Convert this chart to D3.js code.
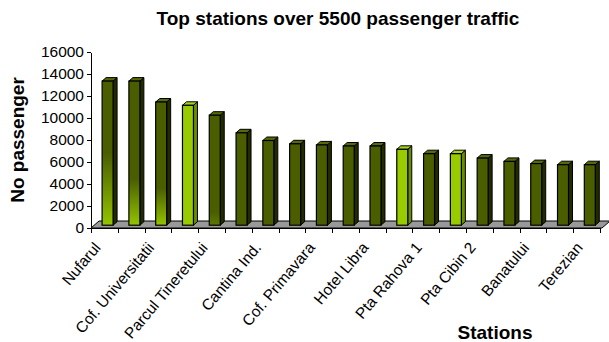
<!DOCTYPE html>
<html>
<head>
<meta charset="utf-8">
<script src="https://cdn.jsdelivr.net/npm/d3@7"></script>
<style>
    body { margin: 0; background: #fff; }
    svg { display: block; font-family: Arial, "Liberation Sans", sans-serif; }
    .axis path, .axis line { stroke: #000; shape-rendering: crispEdges; }
</style>
</head>
<body>
<div id="chart"></div>
<script>
// station names, only every other one is printed on the original chart
let stations = ["Nufarul", "", "Cof. Universitatii", "", "Parcul Tineretului", "", "Cantina Ind.", "",
    "Cof. Primavara", "", "Hotel Libra", "", "Pta Rahova 1", "", "Pta Cibin 2", "", "Banatului", "", "Terezian"];

let passengers = [13100, 13100, 11200, 10900, 10000, 8400, 7700, 7400, 7300, 7200, 7200,
    6900, 6500, 6500, 6100, 5800, 5600, 5500, 5500];

let yTicks = [0, 2000, 4000, 6000, 8000, 10000, 12000, 14000, 16000];

// styling: which bars are light green, which fade to light at the bottom
let lightBars = [3, 11, 13];
let fadeBars = { 0: 0.5, 1: 0.68, 2: 0.7, 4: 0.88 };

let width = 609, height = 342;
let margin = { top: 52, left: 91, right: 9, bottom: 114 };

let svg = d3.select("#chart").append("svg")
    .attr("width", width)
    .attr("height", height);

let x = d3.scaleBand()
    .domain(d3.range(stations.length))
    .range([margin.left, width - margin.right]);

let xTicks = d3.scaleLinear()
    .domain([0, stations.length])
    .range(x.range());

let y = d3.scaleLinear()
    .domain([0, 16000])
    .range([height - margin.bottom, margin.top]);

let floorDepth = { dx: 8, dy: -7 };
let barDepth = { dx: 4, dy: -3.5 };
let barPlace = 0.4;

let dark = { front: "#4a5e00", side: "#222a00", top: "#55690a" };
let light = { front: "#99cc00", side: "#6a8c00", top: "#a6d41a" };

let defs = svg.append("defs");
Object.keys(fadeBars).forEach(function(i) {
    let g = defs.append("linearGradient")
        .attr("id", "fade" + i)
        .attr("x1", 0).attr("x2", 0).attr("y1", 0).attr("y2", 1);
    g.append("stop").attr("offset", 0).attr("stop-color", dark.front);
    g.append("stop").attr("offset", fadeBars[i]).attr("stop-color", dark.front);
    g.append("stop").attr("offset", 1).attr("stop-color", i == 4 ? "#5c7a00" : "#94c400");
});

// floor
let x0 = x.range()[0], x1 = x.range()[1], y0 = y(0);
svg.append("polygon")
    .attr("points", [[x0, y0], [x1 + 2, y0], [x1 + 2 + floorDepth.dx, y0 + floorDepth.dy],
        [x0 + floorDepth.dx, y0 + floorDepth.dy]].join(" "))
    .attr("fill", "#999999")
    .attr("stroke", "#000")
    .attr("stroke-width", 1);

// bars
let bw = x.bandwidth() * 0.41;
let bars = svg.selectAll(".bar")
    .data(passengers)
    .enter().append("g")
    .attr("class", "bar");

function geom(d, i) {
    let left = x(i) + (x.bandwidth() - bw) / 2 + floorDepth.dx * barPlace;
    let bottom = y(0) + floorDepth.dy * barPlace;
    let top = y(d) + floorDepth.dy * barPlace;
    return { left: left, right: left + bw, top: top, bottom: bottom };
}

function colors(i) {
    return lightBars.indexOf(i) >= 0 ? light : dark;
}

bars.append("polygon")
    .attr("points", function(d, i) {
        let g = geom(d, i);
        return [[g.right, g.top], [g.right + barDepth.dx, g.top + barDepth.dy],
            [g.right + barDepth.dx, g.bottom + barDepth.dy], [g.right, g.bottom]].join(" ");
    })
    .attr("fill", function(d, i) { return colors(i).side; })
    .attr("stroke", "#000")
    .attr("stroke-width", 1)
    .attr("stroke-linejoin", "round");

bars.append("polygon")
    .attr("points", function(d, i) {
        let g = geom(d, i);
        return [[g.left, g.top], [g.left + barDepth.dx, g.top + barDepth.dy],
            [g.right + barDepth.dx, g.top + barDepth.dy], [g.right, g.top]].join(" ");
    })
    .attr("fill", function(d, i) { return colors(i).top; })
    .attr("stroke", "#000")
    .attr("stroke-width", 1)
    .attr("stroke-linejoin", "round");

bars.append("rect")
    .attr("x", function(d, i) { return geom(d, i).left; })
    .attr("y", function(d, i) { return geom(d, i).top; })
    .attr("width", bw)
    .attr("height", function(d, i) { let g = geom(d, i); return g.bottom - g.top; })
    .attr("fill", function(d, i) {
        return fadeBars[i] !== undefined ? "url(#fade" + i + ")" : colors(i).front;
    })
    .attr("stroke", "#000")
    .attr("stroke-width", 1.2);

// axes
svg.append("g")
    .attr("class", "axis y-axis")
    .attr("transform", "translate(" + margin.left + ",0)")
    .call(d3.axisLeft(y).tickValues(yTicks).tickSize(4).tickSizeOuter(0).tickPadding(3).tickFormat(d3.format("d")))
    .call(function(g) {
        g.selectAll("text").attr("font-size", 15.5).attr("font-family", null).attr("fill", "#000");
    });

svg.append("g")
    .attr("class", "axis x-axis")
    .attr("transform", "translate(0," + y(0) + ")")
    .call(d3.axisBottom(xTicks).tickValues(d3.range(stations.length + 1)).tickSize(5).tickSizeOuter(0).tickFormat(""));

svg.append("g")
    .selectAll("text")
    .data(stations)
    .enter().append("text")
    .attr("transform", function(d, i) {
        return "translate(" + (x(i) + x.bandwidth() / 2 - 3) + "," + (y(0) + 20) + ") rotate(-50)";
    })
    .attr("text-anchor", "end")
    .attr("font-size", 15.5)
    .text(function(d) { return d; });

// titles
svg.append("text")
    .attr("x", 338)
    .attr("y", 25)
    .attr("text-anchor", "middle")
    .attr("font-size", 19)
    .attr("font-weight", "bold")
    .text("Top stations over 5500 passenger traffic");

svg.append("text")
    .attr("transform", "translate(24,140) rotate(-90)")
    .attr("text-anchor", "middle")
    .attr("font-size", 19)
    .attr("font-weight", "bold")
    .text("No passenger");

svg.append("text")
    .attr("x", 495)
    .attr("y", 339)
    .attr("text-anchor", "middle")
    .attr("font-size", 19)
    .attr("font-weight", "bold")
    .text("Stations");
</script>
</body>
</html>
